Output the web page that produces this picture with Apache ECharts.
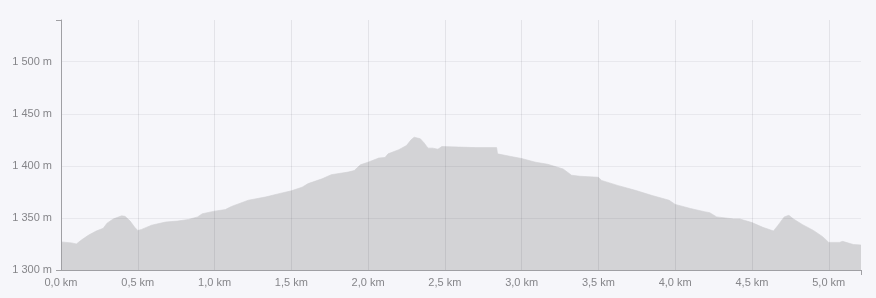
<!DOCTYPE html>
<html>
<head>
<meta charset="utf-8">
<script src="https://cdn.jsdelivr.net/npm/echarts@6/dist/echarts.min.js"></script>
<style>
html,body{margin:0;padding:0;background:#f6f6fa;}
#c{width:876px;height:298px;}
</style>
</head>
<body>
<div id="c"></div>
<script>
var distanceKm = [0.00,0.07,0.10,0.135,0.18,0.23,0.275,0.30,0.34,0.395,0.417,0.45,0.48,0.50,0.525,0.59,0.68,0.76,0.83,0.89,0.92,1.00,1.07,1.11,1.22,1.33,1.44,1.50,1.57,1.61,1.70,1.76,1.87,1.91,1.95,2.00,2.07,2.11,2.13,2.20,2.25,2.28,2.30,2.34,2.365,2.39,2.42,2.455,2.48,2.59,2.70,2.837,2.843,2.93,3.00,3.09,3.17,3.27,3.325,3.38,3.50,3.52,3.63,3.74,3.85,3.96,4.00,4.10,4.19,4.225,4.27,4.38,4.42,4.50,4.57,4.64,4.67,4.71,4.74,4.77,4.83,4.90,4.96,5.00,5.07,5.09,5.16,5.21];
var elevationM = [1327,1326,1325,1329,1333.5,1337.5,1340,1345,1349,1352,1351.5,1347,1341,1338,1339,1343,1346,1347,1348.5,1351,1354,1356.5,1358,1361,1367,1370,1374,1376,1379.5,1383,1387.5,1391.5,1394,1395.5,1401,1403.5,1407.5,1408,1411.5,1415.5,1419.5,1425,1427.5,1426,1422,1417,1417,1416,1418.5,1418,1417.5,1417.5,1411.5,1409,1407,1403.5,1401.5,1397,1391,1390,1389,1386,1381,1376.5,1371.5,1367,1363,1359,1356,1355,1351,1349,1349,1345.5,1341,1337.5,1343,1351,1352.5,1349,1343.5,1338,1332,1326.5,1326.5,1327.5,1324.5,1324];
var xTicksKm = [0,0.5,1.0,1.5,2.0,2.5,3.0,3.5,4.0,4.5,5.0];
var yTicksM = [1300,1350,1400,1450,1500];
var xMax = 5.21, yMin = 1300, yMax = 1540;

var data = distanceKm.map(function(d,i){return [d, elevationM[i]];});
function fmtM(v){ return String(v).replace(/\B(?=(\d{3})+(?!\d))/g,' ') + ' m'; }
function fmtKm(v){ return v.toFixed(1).replace('.', ',') + ' km'; }
var axisColor = '#a0a0a4';
var labelStyle = {color:'#858589',fontSize:11,fontFamily:'Liberation Sans, Arial, sans-serif'};

var chart = echarts.init(document.getElementById('c'), null, {renderer:'canvas'});
chart.setOption({
  backgroundColor:'#f6f6fa',
  animation:false,
  grid:{left:61,right:15,top:20,bottom:28,containLabel:false},
  xAxis:[{
    type:'value', min:0, max:xMax, interval:0.5, position:'bottom', z:5,
    axisLine:{show:true,lineStyle:{color:axisColor,width:1}},
    axisTick:{show:false},
    axisLabel:Object.assign({customValues:xTicksKm,formatter:fmtKm,margin:7}, labelStyle),
    splitLine:{show:true,showMinLine:false,showMaxLine:false,lineStyle:{color:'rgba(0,0,20,0.075)',width:1}}
  },{
    type:'value', min:0, max:xMax, position:'bottom', z:5,
    axisLine:{show:false},
    axisTick:{show:true,customValues:[xMax],length:5,lineStyle:{color:axisColor}},
    axisLabel:{show:false},
    splitLine:{show:false}
  }],
  yAxis:[{
    type:'value', min:yMin, max:yMax, interval:50, position:'left', z:5,
    axisLine:{show:true,lineStyle:{color:axisColor,width:1}},
    axisTick:{show:false},
    axisLabel:Object.assign({customValues:yTicksM,formatter:fmtM,margin:9}, labelStyle),
    splitLine:{show:true,showMinLine:false,showMaxLine:false,lineStyle:{color:'rgba(0,0,20,0.055)',width:1}}
  },{
    type:'value', min:yMin, max:yMax, position:'left', z:5,
    axisLine:{show:false},
    axisTick:{show:true,customValues:[yMin,yMax],length:5,lineStyle:{color:axisColor}},
    axisLabel:{show:false},
    splitLine:{show:false}
  }],
  series:[{
    type:'line', data:data, xAxisIndex:0, yAxisIndex:0, showSymbol:false, smooth:false,
    lineStyle:{width:0.6,color:'#d0d0d3'},
    areaStyle:{color:'#d3d3d6',opacity:1},
    z:1
  }]
});
</script>
</body>
</html>
